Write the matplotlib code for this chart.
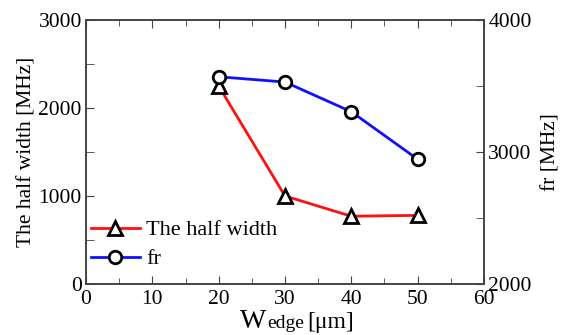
import matplotlib
matplotlib.use("Agg")
import matplotlib.pyplot as plt
from matplotlib.ticker import MultipleLocator
from matplotlib.transforms import offset_copy

plt.rcParams['font.family'] = ['Liberation Serif', 'DejaVu Serif']

wedge = [20, 30, 40, 50]
half_width = [2250, 1000, 770, 780]
fr = [3570, 3530, 3305, 2945]

fig = plt.figure(figsize=(5.65, 3.35), dpi=100)
ax = fig.add_axes([86/565, 1-284/335, (484-86)/565, (284-20)/335])
ax2 = ax.twinx()

spine_col = '#444444'
l1, = ax.plot(wedge, half_width, color='#ff1010', lw=2, marker='^', ms=10,
              mfc='white', mec='black', mew=2, label='The half width', zorder=3)
l2, = ax2.plot(wedge, fr, color='#1010ff', lw=2, marker='o', ms=9,
               mfc='white', mec='black', mew=2, label='fr', zorder=3)

ax.set_xlim(0, 60)
ax.set_ylim(0, 3000)
ax2.set_ylim(2000, 4000)
ax.xaxis.set_major_locator(MultipleLocator(10))
ax.xaxis.set_minor_locator(MultipleLocator(5))
ax.yaxis.set_major_locator(MultipleLocator(1000))
ax.yaxis.set_minor_locator(MultipleLocator(500))
ax2.yaxis.set_major_locator(MultipleLocator(1000))
ax2.yaxis.set_minor_locator(MultipleLocator(500))

for a in (ax, ax2):
    for s in a.spines.values():
        s.set_color(spine_col)
        s.set_linewidth(1.2)
ts = 15.5
ax.tick_params(axis='x', which='both', direction='in', top=True, color=spine_col,
               labelsize=ts, pad=4)
ax.tick_params(axis='x', which='major', length=6)
ax.tick_params(axis='x', which='minor', length=4)
ax.tick_params(axis='y', which='both', direction='in', color=spine_col, labelsize=ts, pad=3)
ax.tick_params(axis='y', which='major', length=6)
ax.tick_params(axis='y', which='minor', length=6)
ax2.tick_params(axis='y', which='both', direction='in', color=spine_col, labelsize=ts, pad=3)
ax2.tick_params(axis='y', which='major', length=6)
ax2.tick_params(axis='y', which='minor', length=6)

ax.set_ylabel('The half width [MHz]', fontsize=15.5, labelpad=1.5)
ax2.set_ylabel('fr [MHz]', fontsize=15.5, labelpad=7)

# x label built from pieces of different sizes
fig.canvas.draw()
renderer = fig.canvas.get_renderer()
x0 = 240 / 565
yb = 1 - 328 / 335
tW = fig.text(x0, yb, 'W', fontsize=20, ha='left', va='baseline')
bb = tW.get_window_extent(renderer)
tE = fig.text(bb.x1 / fig.bbox.width + 0.5 / 565, yb, 'edge', fontsize=14,
              ha='left', va='baseline')
bb2 = tE.get_window_extent(renderer)
tU = fig.text(bb2.x1 / fig.bbox.width + 4 / 565, yb, '[μm]', fontsize=17,
              ha='left', va='baseline')

ax.legend(handles=[l1, l2], loc='lower left', frameon=False, fontsize=16,
          handlelength=2.2, borderaxespad=0, borderpad=0, labelspacing=0.38,
          bbox_to_anchor=(0.012, 0.055), handletextpad=0.3)

fig.savefig('out.png', dpi=100)
